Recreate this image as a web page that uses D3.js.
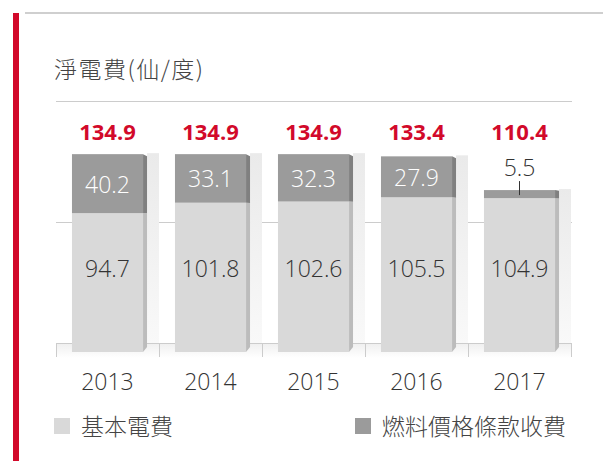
<!DOCTYPE html>
<html>
<head>
<meta charset="utf-8">
<script src="https://cdn.jsdelivr.net/npm/d3@7"></script>
<style>
  body { margin: 0; background: #fff; }
  text { font-family: "Open Sans", "Noto Sans CJK TC", sans-serif; }
</style>
</head>
<body>
<div id="container"></div>
<script>
/* DATA */
const years = ["2013", "2014", "2015", "2016", "2017"];
const baseCharge = [94.7, 101.8, 102.6, 105.5, 104.9];
const fuelCharge = [40.2, 33.1, 32.3, 27.9, 5.5];
const netTotal = [134.9, 134.9, 134.9, 133.4, 110.4];
const gridValues = [0, 82.5, 165];
const titleText = "淨電費(仙/度)";
const legendLabels = ["基本電費", "燃料價格條款收費"];

/* CONSTANTS */
const width = 603,
  height = 461,
  margin = { top: 101, bottom: 118, left: 56, right: 32 },
  depth = 9,
  red = "#d2092a";

const colors = {
  base: "#d9d9d9", baseSide: "#bcbcbc",
  fuel: "#9b9b9b", fuelSide: "#808080"
};

const rows = years.map((y, i) => ({
  year: y, base: baseCharge[i], fuel: fuelCharge[i], total: netTotal[i]
}));

const svg = d3.select("#container")
  .append("svg")
  .attr("width", width)
  .attr("height", height);

const defs = svg.append("defs");
const colGrad = defs.append("linearGradient")
  .attr("id", "colGrad").attr("x1", 0).attr("y1", 0).attr("x2", 0).attr("y2", 1);
colGrad.append("stop").attr("offset", "0%").attr("stop-color", "#eaeaea");
colGrad.append("stop").attr("offset", "100%").attr("stop-color", "#f9f9f9");
const floorGrad = defs.append("linearGradient")
  .attr("id", "floorGrad").attr("x1", 0).attr("y1", 0).attr("x2", 0).attr("y2", 1);
floorGrad.append("stop").attr("offset", "0%").attr("stop-color", "#f0f0f0");
floorGrad.append("stop").attr("offset", "100%").attr("stop-color", "#ffffff");

/* SCALES */
const xScale = d3.scaleBand()
  .domain(years)
  .range([margin.left, width - margin.right]);

const yBack = d3.scaleLinear()
  .domain([0, 165])
  .range([height - margin.bottom, margin.top]);
const yFront = v => yBack(v) + depth;

const bw = xScale.bandwidth();
const barX = d => xScale(d.year) + bw * 0.155;
const barW = bw * 0.69;
const sideW = 4;

// frame: red accent + top rule
svg.append("rect")
  .attr("x", 13).attr("y", 13).attr("width", 6).attr("height", height - 13)
  .attr("fill", red);
svg.append("line")
  .attr("x1", 25).attr("x2", width).attr("y1", 13).attr("y2", 13)
  .attr("stroke", "#cfcfcf").attr("stroke-width", 2);

// title
svg.append("text")
  .attr("x", 54).attr("y", 78)
  .attr("font-size", 23)
  .attr("font-weight", 300)
  .attr("letter-spacing", 1.5)
  .style("font-family", "'Noto Sans CJK TC', sans-serif")
  .attr("fill", "#444")
  .text(titleText);

// gridlines on back wall
svg.selectAll("line.grid")
  .data(gridValues)
  .join("line")
  .attr("class", "grid")
  .attr("x1", margin.left).attr("x2", width - margin.right + 1)
  .attr("y1", d => Math.round(yBack(d)) + 0.5)
  .attr("y2", d => Math.round(yBack(d)) + 0.5)
  .attr("stroke", "#cccccc");

// floor
svg.append("rect")
  .attr("x", margin.left).attr("y", yBack(0) + 1)
  .attr("width", width - margin.right - margin.left).attr("height", 14)
  .attr("fill", "url(#floorGrad)");

// category ticks
svg.selectAll("line.tick")
  .data(years.concat(["end"]))
  .join("line")
  .attr("class", "tick")
  .attr("x1", d => d === "end" ? width - margin.right + 0.5 : xScale(d) + 0.5)
  .attr("x2", d => d === "end" ? width - margin.right + 0.5 : xScale(d) + 0.5)
  .attr("y1", yBack(0)).attr("y2", yBack(0) + 14)
  .attr("stroke", "#cccccc");

// back columns
svg.selectAll("rect.back")
  .data(rows)
  .join("rect")
  .attr("class", "back")
  .attr("x", d => barX(d) + barW + sideW)
  .attr("y", d => yFront(d.total) - 1)
  .attr("width", d => xScale(d.year) + bw - (barX(d) + barW + sideW))
  .attr("height", d => yBack(0) - yFront(d.total) + 1)
  .attr("fill", "url(#colGrad)");

// side faces
const top0 = yFront(d3.max(netTotal)), bot0 = yFront(0);
const sideY = y => top0 + 2 + (y - top0) * ((bot0 - 5 - top0 - 2) / (bot0 - top0));
function sidePath(d, lo, hi) {
  const x1 = barX(d) + barW, x2 = x1 + sideW;
  const yl = yFront(lo), yh = yFront(hi);
  return `M${x1},${yh} L${x2},${sideY(yh)} L${x2},${sideY(yl)} L${x1},${yl} Z`;
}
const bars = svg.selectAll("g.bar")
  .data(rows)
  .join("g")
  .attr("class", "bar");

bars.append("path")
  .attr("d", d => sidePath(d, 0, d.base))
  .attr("fill", colors.baseSide);
bars.append("path")
  .attr("d", d => sidePath(d, d.base, d.total))
  .attr("fill", colors.fuelSide);

// front faces
bars.append("rect")
  .attr("x", barX).attr("width", barW)
  .attr("y", d => yFront(d.base))
  .attr("height", d => yFront(0) - yFront(d.base))
  .attr("fill", colors.base);
bars.append("rect")
  .attr("x", barX).attr("width", barW)
  .attr("y", d => yFront(d.total))
  .attr("height", d => yFront(d.base) - yFront(d.total))
  .attr("fill", colors.fuel);

// base value labels
bars.append("text")
  .attr("x", d => barX(d) + barW / 2)
  .attr("y", yFront(57))
  .attr("text-anchor", "middle")
  .attr("dominant-baseline", "central")
  .attr("font-size", 23).attr("font-weight", 300)
  .attr("fill", "#333")
  .text(d => d.base.toFixed(1));

// fuel value labels (inside, or above with leader when too thin)
bars.each(function (d) {
  const g = d3.select(this);
  const cx = barX(d) + barW / 2;
  const segH = yFront(d.base) - yFront(d.total);
  if (segH > 24) {
    g.append("text")
      .attr("x", cx)
      .attr("y", (yFront(d.base) + yFront(d.total)) / 2)
      .attr("text-anchor", "middle")
      .attr("dominant-baseline", "central")
      .attr("font-size", 23).attr("font-weight", 300)
      .attr("fill", "#fff")
      .text(d.fuel.toFixed(1));
  } else {
    g.append("line")
      .attr("x1", cx).attr("x2", cx)
      .attr("y1", yFront(d.total) - 9).attr("y2", yFront(d.total) + 5)
      .attr("stroke", "#333").attr("stroke-width", 1);
    g.append("text")
      .attr("x", cx)
      .attr("y", yFront(d.total) - 14)
      .attr("text-anchor", "middle")
      .attr("font-size", 23).attr("font-weight", 300)
      .attr("fill", "#333")
      .text(d.fuel.toFixed(1));
  }
});

// totals in red
bars.append("text")
  .attr("x", d => barX(d) + barW / 2)
  .attr("y", 140)
  .attr("text-anchor", "middle")
  .attr("font-size", 22).attr("font-weight", 700)
  .attr("fill", red)
  .text(d => d.total.toFixed(1));

// x axis labels
svg.selectAll("text.year")
  .data(years)
  .join("text")
  .attr("class", "year")
  .attr("x", d => xScale(d) + bw / 2)
  .attr("y", 390)
  .attr("text-anchor", "middle")
  .attr("font-size", 23).attr("font-weight", 300)
  .attr("fill", "#333")
  .text(d => d);

// legend
const legend = svg.selectAll("g.legend")
  .data([
    { label: legendLabels[0], color: colors.base, x: 54 },
    { label: legendLabels[1], color: colors.fuel, x: 355 }
  ])
  .join("g")
  .attr("class", "legend")
  .attr("transform", d => `translate(${d.x},418)`);
legend.append("rect")
  .attr("width", 16).attr("height", 16)
  .attr("fill", d => d.color);
legend.append("text")
  .attr("x", 27).attr("y", 8)
  .attr("dominant-baseline", "central")
  .attr("font-size", 23).attr("font-weight", 300)
  .attr("fill", "#444")
  .text(d => d.label);
</script>
</body>
</html>
